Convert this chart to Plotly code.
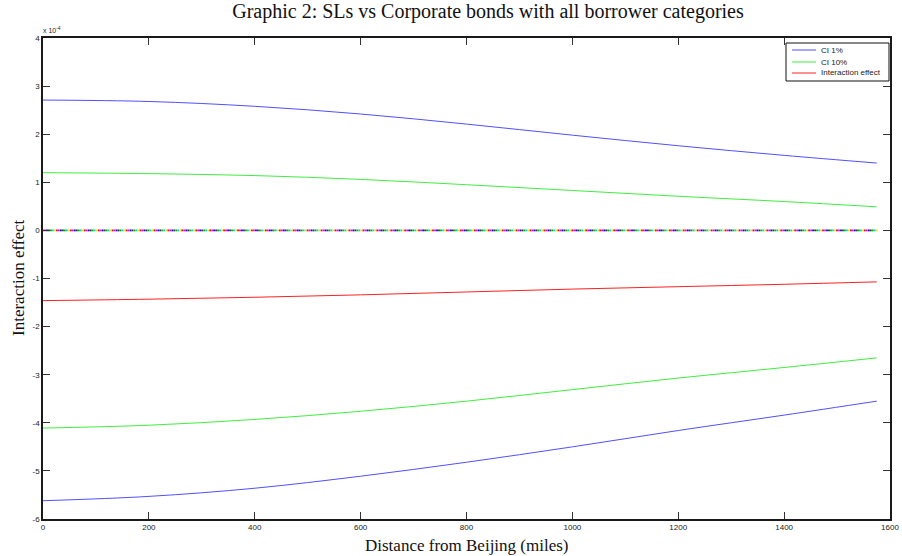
import numpy as np
import plotly.graph_objects as go

# Data (values in units of 1e-4)
distance = [0, 200, 400, 600, 800, 1000, 1200, 1400, 1575]
ci1_upper = [2.71, 2.68, 2.58, 2.42, 2.21, 1.98, 1.76, 1.56, 1.40]
ci10_upper = [1.20, 1.18, 1.14, 1.06, 0.95, 0.83, 0.71, 0.60, 0.49]
interaction = [-1.46, -1.43, -1.39, -1.34, -1.28, -1.22, -1.17, -1.12, -1.07]
ci10_lower = [-4.11, -4.05, -3.93, -3.76, -3.55, -3.31, -3.07, -2.85, -2.65]
ci1_lower = [-5.62, -5.53, -5.36, -5.11, -4.82, -4.50, -4.16, -3.84, -3.55]
zero_level = 0.0

legend_names = ["CI 1%", "CI 10%", "Interaction effect"]

scale = 1e-4
x_ticks = [0, 200, 400, 600, 800, 1000, 1200, 1400, 1600]
y_ticks = [-6, -5, -4, -3, -2, -1, 0, 1, 2, 3, 4]

BLUE = "#5050ff"
GREEN = "#40ee40"
RED = "#ff2020"
legend_colors = [BLUE, GREEN, RED]

# body margin is removed by post_script, so figure sits at (0, 0)
OFF = 0
W, H = 902 - OFF, 556 - OFF
# desired plot area in screen pixels: x 43..890, y 38..519
ML = 43 - OFF
MT = 38 - OFF
MR = W - (890 - OFF)
MB = H - (519 - OFF)
PW, PH = W - ML - MR, H - MT - MB

def px_x(p):  # screen px -> paper
    return (p - OFF - ML) / PW

def px_y(p):
    return (H - MB - (p - OFF)) / PH

fig = go.Figure()

# multicolour dotted zero line (many overlapping series at zero)
zx = np.linspace(distance[0], distance[-1], 420)
dot_cols = ["#ff0000", "#ff00ff", "#0000ff", "#333333", "#00b000", "#00d0d0", "#e8e800"]
fig.add_trace(go.Scatter(
    x=zx, y=np.full_like(zx, zero_level * scale), mode="markers",
    marker=dict(symbol="square", size=1.8, color=[dot_cols[i % len(dot_cols)] for i in range(len(zx))],
                line=dict(width=0)),
    showlegend=False, hoverinfo="skip"))

series = [
    (ci1_upper, BLUE), (ci10_upper, GREEN), (interaction, RED),
    (ci10_lower, GREEN), (ci1_lower, BLUE),
]
for vals, col in series:
    fig.add_trace(go.Scatter(x=distance, y=[v * scale for v in vals], mode="lines",
                             line=dict(color=col, width=1, shape="spline"),
                             showlegend=False))

tickfont = dict(family="Liberation Sans, Arial, sans-serif", size=8, color="#222")
axis_common = dict(showline=True, linecolor="#1a1a1a", linewidth=1.5, mirror="ticks",
                   ticks="inside", ticklen=7, tickwidth=1, tickcolor="#333",
                   showgrid=False, zeroline=False, tickfont=tickfont, automargin=False,
                   ticklabeloverflow="allow")

fig.update_xaxes(range=[0, 1600], tickvals=x_ticks, ticktext=[str(v) for v in x_ticks],
                 **axis_common)
fig.update_yaxes(range=[-6 * scale, 4 * scale], tickvals=[v * scale for v in y_ticks],
                 ticktext=[str(v) for v in y_ticks],
                 **axis_common)

serif = "Liberation Serif, Times New Roman, serif"
fig.add_annotation(x=px_x(466), y=px_y(545), xref="paper", yref="paper", xanchor="center", yanchor="middle",
                   text="Distance from Beijing (miles)", showarrow=False,
                   font=dict(family=serif, size=17, color="#111"))
fig.add_annotation(x=px_x(18), y=px_y(278), xref="paper", yref="paper", xanchor="center", yanchor="middle",
                   text="Interaction effect", showarrow=False, textangle=-90,
                   font=dict(family=serif, size=17, color="#111"))

fig.add_annotation(x=px_x(41), y=px_y(36), xref="paper", yref="paper", xanchor="left", yanchor="bottom",
                   text="x 10<sup>-4</sup>", showarrow=False,
                   font=dict(family="Liberation Sans, Arial, sans-serif", size=7, color="#222"))

# manual legend (compact, MATLAB style)
fig.add_shape(type="rect", xref="paper", yref="paper",
              x0=px_x(786), x1=px_x(889), y0=px_y(81), y1=px_y(43),
              line=dict(color="#111", width=1), fillcolor="white", layer="above")
rows = [50, 62, 73]
for name, col, ry in zip(legend_names, legend_colors, rows):
    fig.add_shape(type="line", xref="paper", yref="paper",
                  x0=px_x(792), x1=px_x(816), y0=px_y(ry), y1=px_y(ry),
                  line=dict(color=col, width=1), layer="above")
    fig.add_annotation(x=px_x(819), y=px_y(ry), xref="paper", yref="paper",
                       xanchor="left", yanchor="middle", text=name, showarrow=False,
                       font=dict(family="Liberation Sans, Arial, sans-serif", size=8, color="#222"))

fig.update_layout(
    width=W, height=H,
    margin=dict(l=ML, r=MR, t=MT, b=MB),
    paper_bgcolor="white", plot_bgcolor="white",
    title=dict(text="Graphic 2: SLs vs Corporate bonds with all borrower categories",
               x=(488 - OFF) / W, xanchor="center", y=0.993, yanchor="top",
               font=dict(family=serif, size=20, color="#111")),
    showlegend=False,
)

fig.write_html("out.html", config={"displayModeBar": False},
               post_script="document.body.style.margin='0px';document.body.style.overflow='hidden';")
